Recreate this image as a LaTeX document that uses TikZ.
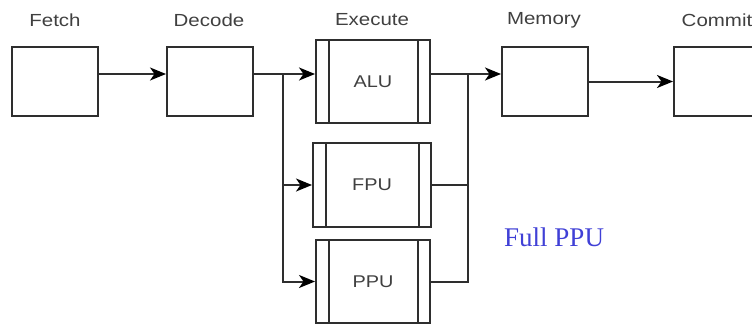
\documentclass[tikz,border=0pt]{standalone}
\usepackage{fontspec}
\setmainfont{Liberation Sans}
\newfontfamily\notefont{Liberation Serif}
\usetikzlibrary{arrows.meta}
\definecolor{edgegray}{HTML}{2E2E2E}
\definecolor{textgray}{HTML}{404040}
\definecolor{noteblue}{RGB}{64,64,214}
\newcommand{\widetext}[1]{\scalebox{1.17}[1]{#1}}
\tikzset{
  stage/.style={draw=edgegray, line width=2pt, rectangle, inner sep=0pt,
    text=textgray, font=\fontsize{17}{20}\selectfont},
  plainbox/.style={stage, minimum width=86pt, minimum height=69pt},
  procbox/.style={stage, minimum width=114pt, minimum height=83pt,
    path picture={
      \draw[edgegray, line width=2pt]
        ([xshift=12.5pt]path picture bounding box.north west) --
        ([xshift=12.5pt]path picture bounding box.south west)
        ([xshift=-12pt]path picture bounding box.north east) --
        ([xshift=-12pt]path picture bounding box.south east);}},
  title/.style={text=textgray, font=\fontsize{17.5}{20}\selectfont, inner sep=0pt},
  wire/.style={draw=edgegray, line width=2pt},
  arr/.style={wire, -{Stealth[length=16pt, width=13pt, inset=4.5pt, color=black]}}
}
\begin{document}
\begin{tikzpicture}[x=1pt, y=-1pt]
  \useasboundingbox (0,0) rectangle (752,324);
  \clip (0,0) rectangle (752,324);

  % pipeline stages
  \node[plainbox] (fetch)  at (55,81.5)  {};
  \node[plainbox] (decode) at (210,81.5) {};
  \node[procbox]  (alu)    at (373,81.5) {\widetext{ALU}};
  \node[procbox, minimum width=118pt, minimum height=84pt] (fpu) at (372,185) {\widetext{FPU}};
  \node[procbox]  (ppu)    at (373,281.5) {\widetext{PPU}};
  \node[plainbox] (memory) at (545,81.5) {};
  \node[plainbox] (commit) at (717,81.5) {};

  % stage titles
  \node[title] (tfetch)   at (55,20)  {\widetext{Fetch}};
  \node[title] (tdecode)  at (209,20) {\widetext{Decode}};
  \node[title] (texecute) at (372,20) {\widetext{Execute}};
  \node[title] (tmemory)  at (544,20) {\widetext{Memory}};
  \node[title] (tcommit)  at (717,20) {\widetext{Commit}};

  % note
  \node[anchor=base west, inner sep=0pt, text=noteblue,
        font=\notefont\fontsize{27}{30}\selectfont] (note) at (504,246.5) {Full PPU};

  % fan-out / fan-in points
  \coordinate (split) at (283,74);
  \coordinate (merge) at (468,74);

  % connectors
  \draw[arr] ([yshift=7.5pt]fetch.east) -- ([yshift=7.5pt]decode.west);
  \draw[wire] ([yshift=7.5pt]decode.east) -- (split);
  \draw[arr] (split) -- (alu.west |- split);
  \draw[arr] (split) |- (fpu.west);
  \draw[arr] (split) |- (ppu.west);
  \draw[wire] (alu.east |- merge) -- (merge);
  \draw[wire] (fpu.east) -| (merge);
  \draw[wire] (ppu.east) -| (merge);
  \draw[arr] (merge) -- (memory.west |- merge);
  \draw[arr] (memory.east) -- (commit.west);
\end{tikzpicture}
\end{document}
